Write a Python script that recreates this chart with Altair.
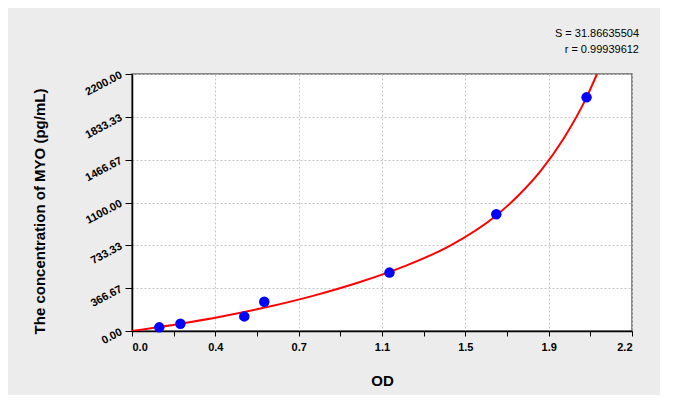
import altair as alt
import pandas as pd

# Standard points (OD, concentration)
point_od = [0.120, 0.213, 0.494, 0.582, 1.133, 1.603, 2.000]
point_conc = [31.25, 62.5, 125, 250, 500, 1000, 2000]

# Fitted curve
curve_od = [0.0, 0.2, 0.4, 0.6, 0.8, 1.0, 1.2, 1.4, 1.6, 1.7, 1.8, 1.9, 2.0, 2.046]
curve_conc = [0, 58, 126, 207, 303, 417, 555, 731, 985, 1160, 1375, 1650, 2000, 2200]

x_tick_labels = ["0.0", "0.4", "0.7", "1.1", "1.5", "1.9", "2.2"]
stats_text = ["S = 31.86635504", "r = 0.99939612"]

X_MAX = 2.2
Y_MAX = 2200.0
x_ticks = [round(X_MAX * i / 24, 6) for i in range(25)]
y_ticks = [round(Y_MAX * i / 24, 6) for i in range(25)]

pts = pd.DataFrame({"od": point_od, "conc": point_conc})
curve = pd.DataFrame({"od": curve_od, "conc": curve_conc})

x_major = f"abs(datum.value*6/{X_MAX} - round(datum.value*6/{X_MAX})) < 0.01"
y_major = f"abs(datum.value*6/{Y_MAX} - round(datum.value*6/{Y_MAX})) < 0.01"
label_list = "[" + ",".join(f"'{s}'" for s in x_tick_labels) + "]"

x_scale = alt.Scale(domain=[0, X_MAX], nice=False, zero=False)
y_scale = alt.Scale(domain=[0, Y_MAX], nice=False, zero=False)

x_axis = alt.Axis(
    title="OD",
    values=x_ticks,
    labelExpr=f"({x_major}) ? {label_list}[round(datum.value*6/{X_MAX})] : ''",
    tickSize=5,
    tickColor="black",
    labelPadding=5,
    labelFont="Liberation Sans",
    labelFontSize=11,
    labelFontWeight="bold",
    labelColor="black",
    labelOverlap=False,
    domainColor="black",
    domainWidth=1.5,
    grid=True,
    gridColor="#c4c4c4",
    gridDash=[2, 2],
    gridOpacity={"condition": {"test": x_major, "value": 1}, "value": 0},
    titleFont="Liberation Sans",
    titleFontSize=15,
    titleFontWeight="bold",
    titleColor="black",
    titleX=250,
    titleY=49,
    titleBaseline="middle",
    titleAlign="center",
)

y_axis = alt.Axis(
    title="The concentration of MYO (pg/mL)",
    values=y_ticks,
    labelExpr=f"({y_major}) ? format(datum.value, '.2f') : ''",
    tickSize={"condition": {"test": y_major, "value": 7}, "value": 5},
    tickColor="black",
    labelPadding=4,
    labelAngle=332,
    labelAlign="right",
    labelBaseline="middle",
    labelFont="Liberation Sans",
    labelFontSize=11,
    labelFontWeight="bold",
    labelColor="black",
    labelOverlap=False,
    domainColor="black",
    domainWidth=1.5,
    grid=True,
    gridColor="#c4c4c4",
    gridDash=[2, 2],
    gridOpacity={"condition": {"test": y_major, "value": 1}, "value": 0},
    titleFont="Liberation Sans",
    titleFontSize=15,
    titleFontWeight="bold",
    titleColor="black",
    titleAngle=270,
    titleX=-93,
    titleY=137,
    titleBaseline="middle",
    titleAlign="center",
)

line = alt.Chart(curve).mark_line(color="#ff0000", strokeWidth=2, interpolate="monotone", clip=True).encode(
    x=alt.X("od:Q", scale=x_scale, axis=x_axis),
    y=alt.Y("conc:Q", scale=y_scale, axis=y_axis),
)

points = alt.Chart(pts).mark_circle(color="#0000ff", size=110, opacity=1).encode(
    x=alt.X("od:Q", scale=x_scale),
    y=alt.Y("conc:Q", scale=y_scale),
)

chart = alt.layer(line, points).properties(
    width=500,
    height=257,
    background="#ececec",
    padding={"left": 124, "top": 66, "right": 28, "bottom": 64},
    autosize=alt.AutoSizeParams(type="none"),
    title=alt.TitleParams(
        text=stats_text,
        anchor="end",
        frame="group",
        align="right",
        dx=7,
        offset=14,
        font="Liberation Sans",
        fontSize=11,
        fontWeight="normal",
        color="black",
        lineHeight=16,
    ),
).configure_view(
    fill="white",
    stroke="#666666",
    strokeWidth=1.5,
)

chart.save("out.html", embed_options={"renderer": "svg", "actions": False})
